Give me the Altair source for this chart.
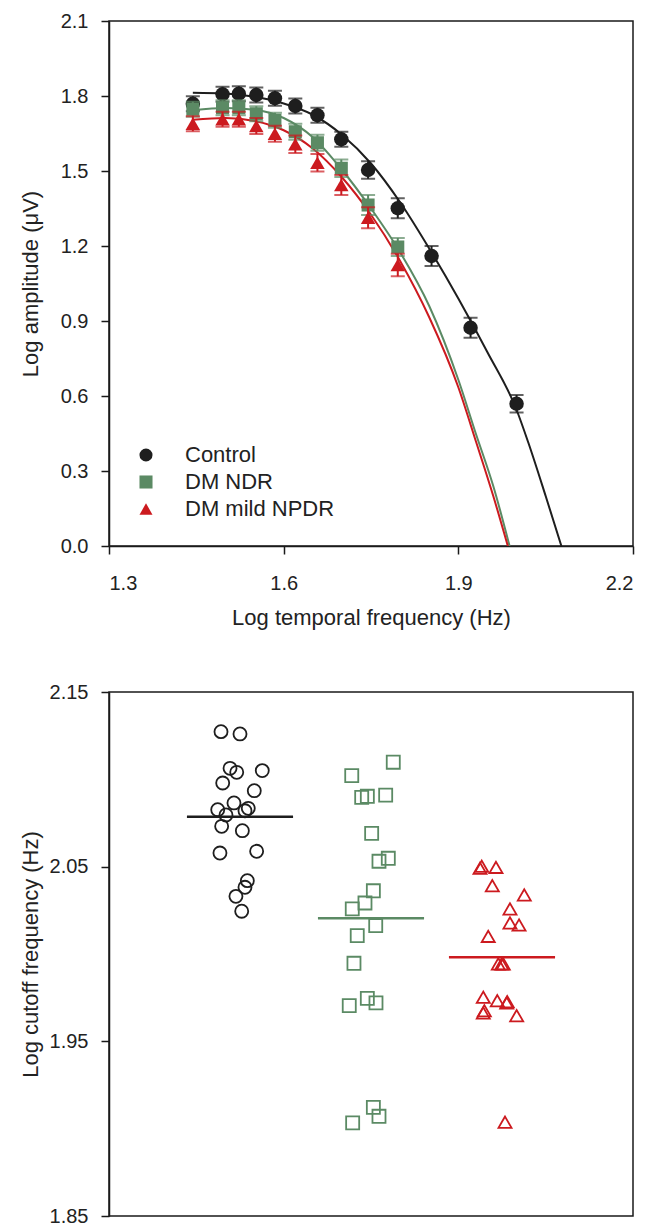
import altair as alt
import pandas as pd

FONT = "Liberation Sans"

# ---------------- top panel: amplitude vs temporal frequency ----------------
groups = ["Control", "DM NDR", "DM mild NPDR"]
colors = ["#1e1e1e", "#5b8a64", "#cc1a1f"]
shapes = ["circle", "square", "triangle-up"]

freq = [1.444, 1.495, 1.523, 1.553, 1.585, 1.620, 1.658, 1.699, 1.745, 1.796, 1.854, 1.921, 2.000]

ctrl_amp = [1.769, 1.807, 1.809, 1.804, 1.791, 1.760, 1.723, 1.627, 1.504, 1.351, 1.160, 0.873, 0.569]
ctrl_se = [0.030, 0.030, 0.030, 0.030, 0.030, 0.030, 0.030, 0.030, 0.035, 0.040, 0.040, 0.040, 0.035]

ndr_amp = [1.747, 1.753, 1.753, 1.729, 1.703, 1.657, 1.613, 1.511, 1.364, 1.196]
ndr_se = [0.030, 0.030, 0.030, 0.030, 0.030, 0.032, 0.032, 0.035, 0.040, 0.036]

npdr_amp = [1.689, 1.707, 1.707, 1.680, 1.649, 1.607, 1.533, 1.444, 1.313, 1.124]
npdr_se = [0.030, 0.030, 0.030, 0.032, 0.032, 0.035, 0.035, 0.040, 0.042, 0.045]

# fitted curves
ctrl_fit_x = [1.444, 1.50, 1.55, 1.60, 1.65, 1.70, 1.75, 1.80, 1.85, 1.90, 1.95, 2.00, 2.02, 2.05, 2.077]
ctrl_fit_y = [1.813, 1.810, 1.797, 1.770, 1.725, 1.645, 1.530, 1.375, 1.190, 0.990, 0.775, 0.545, 0.415, 0.200, 0.0]
ndr_fit_x = [1.444, 1.50, 1.55, 1.60, 1.65, 1.70, 1.75, 1.80, 1.85, 1.90, 1.93, 1.96, 1.988]
ndr_fit_y = [1.743, 1.752, 1.745, 1.712, 1.635, 1.505, 1.350, 1.175, 0.960, 0.665, 0.450, 0.240, 0.0]
npdr_fit_x = [1.444, 1.50, 1.55, 1.60, 1.65, 1.70, 1.75, 1.80, 1.85, 1.90, 1.93, 1.96, 1.985]
npdr_fit_y = [1.705, 1.712, 1.700, 1.663, 1.590, 1.475, 1.325, 1.140, 0.915, 0.635, 0.420, 0.200, 0.0]

x_ticks = [1.3, 1.6, 1.9, 2.2]
y_ticks = [0.0, 0.3, 0.6, 0.9, 1.2, 1.5, 1.8, 2.1]

# ---------------- bottom panel: cutoff frequency scatter ----------------
ctrl_cut = [2.1273, 2.1260, 2.1063, 2.1040, 2.1050, 2.0979, 2.0935, 2.0865, 2.0826, 2.0796,
            2.0820, 2.0834, 2.0731, 2.0706, 2.0578, 2.0588, 2.0420, 2.0382, 2.0330, 2.0245]
ctrl_jit = [0.855, 1.000, 0.924, 0.975, 1.170, 0.868, 1.109, 0.954, 0.830, 0.893,
            1.038, 1.063, 0.860, 1.018, 0.847, 1.127, 1.056, 1.038, 0.969, 1.013]
ndr_cut = [2.1098, 2.1021, 2.0897, 2.0903, 2.0910, 2.0691, 2.0531, 2.0548, 2.0362, 2.0292,
           2.0258, 2.0162, 2.0105, 1.9947, 1.9704, 1.9746, 1.9720, 1.9122, 1.9071, 1.9033]
ndr_jit = [2.170, 1.853, 1.929, 1.972, 2.112, 2.005, 2.061, 2.132, 2.018, 1.954,
           1.857, 2.036, 1.895, 1.870, 1.834, 1.972, 2.038, 2.018, 2.061, 1.860]
npdr_cut = [2.0502, 2.0491, 2.0496, 2.0391, 2.0338, 2.0258, 2.0178, 2.0166, 2.0101, 1.9943,
            1.9943, 1.9943, 1.9752, 1.9733, 1.9727, 1.9720, 1.9675, 1.9662, 1.9647, 1.9037]
npdr_jit = [2.845, 2.832, 2.954, 2.926, 3.170, 3.061, 3.061, 3.130, 2.895, 2.972,
            2.998, 3.010, 2.857, 2.964, 3.040, 3.036, 2.865, 2.857, 3.112, 3.023]
group_pos = [1, 2, 3]
group_mean = [2.0786, 2.0204, 1.9981]
cut_ticks = [1.85, 1.95, 2.05, 2.15]

# ---------------- build tables ----------------
amps = [ctrl_amp, ndr_amp, npdr_amp]
ses = [ctrl_se, ndr_se, npdr_se]
fits = [(ctrl_fit_x, ctrl_fit_y), (ndr_fit_x, ndr_fit_y), (npdr_fit_x, npdr_fit_y)]
cuts = [ctrl_cut, ndr_cut, npdr_cut]
jits = [ctrl_jit, ndr_jit, npdr_jit]

pts_rows, fit_rows, cut_rows = [], [], []
for g, a, s in zip(groups, amps, ses):
    for f, v, e in zip(freq, a, s):
        pts_rows.append({"group": g, "f": f, "amp": v, "lo": v - e, "hi": v + e})
for g, (fx, fy) in zip(groups, fits):
    for f, v in zip(fx, fy):
        fit_rows.append({"group": g, "f": f, "amp": v})
for g, c, j in zip(groups, cuts, jits):
    for v, x in zip(c, j):
        cut_rows.append({"group": g, "pos": x, "cut": v})
mean_df = pd.DataFrame({"group": groups, "pos": group_pos, "cut": group_mean})

pts = pd.DataFrame(pts_rows)
fit = pd.DataFrame(fit_rows)
cutdf = pd.DataFrame(cut_rows)

TOP_W, TOP_H = 524, 525
BOT_W, BOT_H = 524, 524

color_scale = alt.Scale(domain=groups, range=colors)
shape_scale = alt.Scale(domain=groups, range=shapes)

xs = alt.Scale(domain=[1.3, 2.2], nice=False, zero=False)
ys = alt.Scale(domain=[0, 2.1], nice=False, zero=False)

x_axis = alt.Axis(values=x_ticks, format=".1f", title="Log temporal frequency (Hz)",
                  titleY=61, labelPadding=19)
y_axis = alt.Axis(values=y_ticks, format=".1f", title="Log amplitude (\u03bcV)",
                  titleX=-67, titleY=TOP_H / 2, labelPadding=13)

legend = alt.Legend(orient="none", legendX=26, legendY=423, title=None,
                    labelFontSize=22, labelFont=FONT, labelColor="#222222",
                    symbolSize=170, symbolStrokeWidth=0, labelOffset=28,
                    rowPadding=5, symbolOpacity=1)

layers = []
for g, c in zip(groups, colors):
    layers.append(
        alt.Chart(fit).transform_filter(alt.datum.group == g)
        .mark_line(color=c, strokeWidth=2, interpolate="monotone", clip=True)
        .encode(x=alt.X("f:Q", scale=xs, axis=x_axis),
                y=alt.Y("amp:Q", scale=ys, axis=y_axis),
                order=alt.Order("f:Q"))
    )
for g, c, sz in zip(groups, colors, [210, 170, 210]):
    base = alt.Chart(pts).transform_filter(alt.datum.group == g)
    layers.append(
        base.mark_rule(color=c, strokeWidth=2)
        .encode(x=alt.X("f:Q", scale=xs, axis=x_axis),
                y=alt.Y("lo:Q", scale=ys, axis=y_axis), y2="hi:Q")
    )
    for col in ["lo", "hi"]:
        layers.append(
            base.mark_tick(color=c, orient="horizontal", size=14, thickness=2)
            .encode(x=alt.X("f:Q", scale=xs, axis=x_axis),
                    y=alt.Y(f"{col}:Q", scale=ys, axis=y_axis))
        )
    layers.append(
        base.mark_point(filled=True, opacity=1, size=sz)
        .encode(x=alt.X("f:Q", scale=xs, axis=x_axis),
                y=alt.Y("amp:Q", scale=ys, axis=y_axis),
                color=alt.Color("group:N", scale=color_scale, legend=legend),
                shape=alt.Shape("group:N", scale=shape_scale, legend=legend))
    )

top = alt.layer(*layers).properties(width=TOP_W, height=TOP_H)

# bottom panel
bx = alt.Scale(domain=[0, 4], nice=False, zero=False)
by = alt.Scale(domain=[1.85, 2.15], nice=False, zero=False)
b_axis = alt.Axis(values=cut_ticks, format=".2f", title="Log cutoff frequency (Hz)",
                  titleX=-67, titleY=BOT_H / 2, labelPadding=13)

scatter = alt.Chart(cutdf).mark_point(filled=False, strokeWidth=1.8, opacity=1, size=170).encode(
    x=alt.X("pos:Q", scale=bx, axis=None),
    y=alt.Y("cut:Q", scale=by, axis=b_axis),
    color=alt.Color("group:N", scale=color_scale, legend=None),
    shape=alt.Shape("group:N", scale=shape_scale, legend=None),
)
means = alt.Chart(mean_df).transform_calculate(
    x1="datum.pos - 0.405", x2="datum.pos + 0.405"
).mark_rule(strokeWidth=2.5).encode(
    x=alt.X("x1:Q", scale=bx, axis=None),
    x2="x2:Q",
    y=alt.Y("cut:Q", scale=by, axis=b_axis),
    color=alt.Color("group:N", scale=color_scale, legend=None),
)
bottom = alt.layer(scatter, means).properties(width=BOT_W, height=BOT_H)

chart = alt.vconcat(top, bottom, spacing=52).properties(
    padding={"left": 10, "top": 2, "right": 0, "bottom": 2},
    background="white",
).configure_view(stroke="#1a1a1a", strokeWidth=1.5).configure_axis(
    grid=False, domainColor="#1a1a1a", domainWidth=1.5, tickColor="#1a1a1a",
    tickWidth=1.5, tickSize=8, labelFont=FONT, labelFontSize=20, labelColor="#222222",
    titleFont=FONT, titleFontSize=22, titleFontWeight="normal", titleColor="#222222",
)

chart.save("out.html", embed_options={"renderer": "svg", "actions": False})
